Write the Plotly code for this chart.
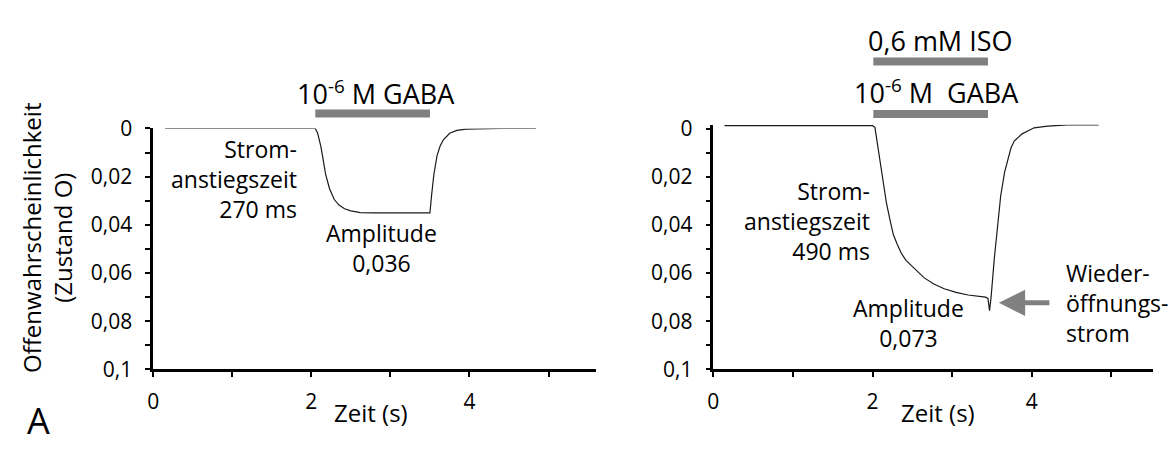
import plotly.graph_objects as go

# ---------------- data ----------------
t_left = [0.15, 2.05, 2.08, 2.12, 2.15, 2.18, 2.23, 2.29, 2.35, 2.42, 2.50, 2.62, 2.80, 3.50,
          3.52, 3.55, 3.59, 3.63, 3.67, 3.75, 3.84, 3.96, 4.40, 4.84]
p_left = [0.0, 0.0, 0.002, 0.0074, 0.013, 0.019, 0.025, 0.0295, 0.0318, 0.0333, 0.0342, 0.0349, 0.035, 0.035,
          0.028, 0.019, 0.0113, 0.0072, 0.0047, 0.002, 0.0008, 0.0003, 0.0, 0.0]

t_right = [0.14, 2.00, 2.03, 2.06, 2.09, 2.11, 2.14, 2.175, 2.22, 2.26, 2.31, 2.36, 2.42, 2.49, 2.57,
           2.65, 2.77, 2.90, 3.05, 3.20, 3.42, 3.45, 3.47, 3.49, 3.53, 3.57, 3.61, 3.66, 3.70, 3.74,
           3.78, 3.83, 3.88, 3.95, 4.03, 4.20, 4.45, 4.84]
p_right = [-0.0012, -0.0012, -0.0005, 0.006, 0.0125, 0.0181, 0.025, 0.031, 0.038, 0.0439, 0.048, 0.0517, 0.0547, 0.0569, 0.0597,
           0.062, 0.0645, 0.0665, 0.068, 0.0691, 0.070, 0.0705, 0.0756, 0.0698, 0.054, 0.040, 0.028, 0.018, 0.0125, 0.008,
           0.0052, 0.0035, 0.0022, 0.001, -0.0003, -0.001, -0.0015, -0.0015]

x_tickvals = [0, 1, 2, 3, 4, 5]
x_ticktext = ["0", "", "2", "", "4", ""]
y_tickvals = [0, 0.01, 0.02, 0.03, 0.04, 0.05, 0.06, 0.07, 0.08, 0.09, 0.1]
y_ticktext = ["0", "", "0,02", "", "0,04", "", "0,06", "", "0,08", "", "0,1"]

gaba_left = [2.05, 3.50]
gaba_right = [2.01, 3.45]
iso_right = [2.01, 3.45]

# ---------------- layout helpers ----------------
W, H = 1171, 449
FONT = "Open Sans"


def px(x):
    return x / W


def py(y):
    return (H - y) / H


fig = go.Figure()
fig.add_trace(go.Scatter(x=t_left, y=p_left, mode="lines", xaxis="x", yaxis="y",
                         line=dict(color="#1a1a1a", width=1.2), showlegend=False))
fig.add_trace(go.Scatter(x=t_right, y=p_right, mode="lines", xaxis="x2", yaxis="y2",
                         line=dict(color="#1a1a1a", width=1.2), showlegend=False))

axis_common = dict(showline=True, linecolor="black", linewidth=2.5, ticks="outside",
                   ticklen=5, tickwidth=2, tickcolor="black", showgrid=False, zeroline=False,
                   tickfont=dict(family=FONT, size=21, color="black"))

fig.update_layout(
    width=W, height=H, margin=dict(l=0, r=0, t=0, b=0),
    paper_bgcolor="white", plot_bgcolor="white",
    xaxis=dict(domain=[px(148), px(593)], range=[0, 5.6], anchor="y",
               tickvals=x_tickvals, ticktext=x_ticktext, ticklabelstandoff=7, **axis_common),
    yaxis=dict(domain=[py(378), py(121)], range=[0.1, 0], anchor="x",
               tickvals=y_tickvals, ticktext=y_ticktext, ticklabelstandoff=9, **axis_common),
    xaxis2=dict(domain=[px(711), px(1153)], range=[0, 5.525], anchor="y2",
                tickvals=x_tickvals, ticktext=x_ticktext, ticklabelstandoff=7, **axis_common),
    yaxis2=dict(domain=[py(378), py(117)], range=[0.1, -0.0016], anchor="x2",
                tickvals=y_tickvals, ticktext=y_ticktext, ticklabelstandoff=9, **axis_common),
)

BAR = "#808080"
fig.add_shape(type="line", xref="x", yref="paper", x0=gaba_left[0], x1=gaba_left[1],
              y0=py(105), y1=py(105), line=dict(color=BAR, width=8))
fig.add_shape(type="line", xref="x2", yref="paper", x0=gaba_right[0], x1=gaba_right[1],
              y0=py(105.5), y1=py(105.5), line=dict(color=BAR, width=8))
fig.add_shape(type="line", xref="x2", yref="paper", x0=iso_right[0], x1=iso_right[1],
              y0=py(49.5), y1=py(49.5), line=dict(color=BAR, width=8))


def ann(text, x, y, size=23, xanchor="center", align="center", **kw):
    fig.add_annotation(text=text, x=px(x), y=py(y), xref="paper", yref="paper",
                       xanchor=xanchor, yanchor="middle", align=align, showarrow=False,
                       font=dict(family=FONT, size=size, color="black"), **kw)


ann("Offenwahrscheinlichkeit<br>(Zustand O)", 41, 238, size=24, textangle=-90)
ann("10<sup>-6</sup> M GABA", 372, 83, size=27)
ann("Strom-<br>anstiegszeit<br>270 ms", 295, 175, xanchor="right", align="right")
ann("Amplitude<br>0,036", 377, 249)
ann("Zeit (s)", 367, 424, size=24)
ann("A", 33, 433, size=36)

ann("0,6 mM ISO", 939, 27, size=27)
ann("10<sup>-6</sup> M&nbsp; GABA", 935, 82, size=27)
ann("Strom-<br>anstiegszeit<br>490 ms", 870, 220, xanchor="right", align="right")
ann("Amplitude<br>0,073", 907, 329)
ann("Wieder-<br>öffnungs-<br>strom", 1063, 307, xanchor="left", align="left")
ann("Zeit (s)", 937, 424, size=24)

fig.add_annotation(text="", x=px(998), y=py(307), xref="paper", yref="paper",
                   ax=52, ay=0, showarrow=True, arrowhead=2, arrowsize=1.05,
                   arrowwidth=5, arrowcolor=BAR)

fig.write_html("out.html")
